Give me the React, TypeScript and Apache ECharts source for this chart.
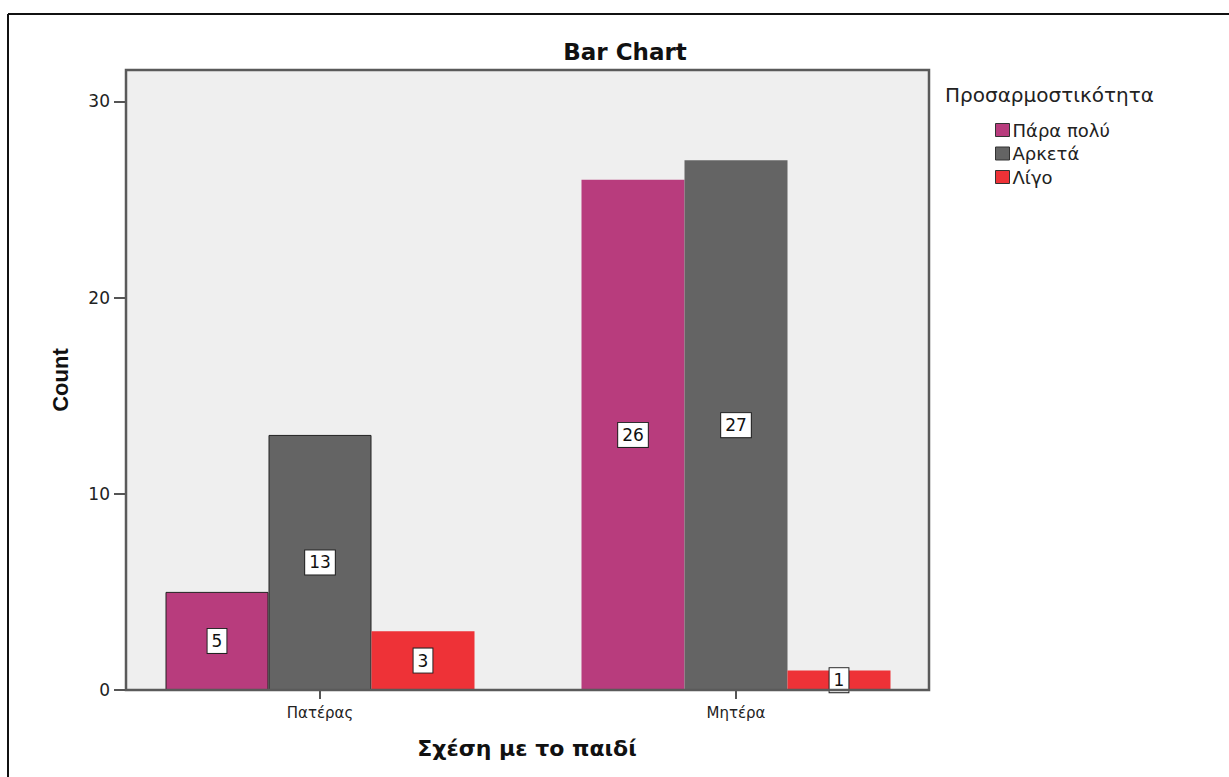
import React, { useEffect, useRef } from "react";
import * as echarts from "echarts";

const categories = ["Πατέρας", "Μητέρα"];
const seriesNames = ["Πάρα πολύ", "Αρκετά", "Λίγο"];
const paraPolu = [5, 26];
const arketa = [13, 27];
const ligo = [3, 1];
const seriesColors = ["#b83c7d", "#646464", "#ee3237"];
const yTicks = [0, 10, 20, 30];

export default function App() {
  const ref = useRef<HTMLDivElement>(null);
  useEffect(() => {
    document.body.style.margin = "0";
    const chart = echarts.init(ref.current!, null, { renderer: "svg" });
    const values = [paraPolu, arketa, ligo];
    const label = {
      show: true,
      position: "inside",
      color: "#111",
      fontFamily: "DejaVu Sans",
      fontSize: 17,
      backgroundColor: "#ffffff",
      borderColor: "#222",
      borderWidth: 1,
      padding: [4, 4, 3, 4],
    };
    chart.setOption({
      animation: false,
      backgroundColor: "#ffffff",
      grid: { left: 112, right: 285, top: 70, bottom: 87, show: false },
      legend: {
        orient: "vertical",
        left: 990,
        top: 116,
        itemWidth: 14,
        itemHeight: 13,
        itemGap: 5.5,
        icon: "rect",
        data: seriesNames,
        itemStyle: { borderColor: "#333", borderWidth: 1 },
        textStyle: {
          fontFamily: "DejaVu Sans",
          fontSize: 18,
          color: "#222",
          lineHeight: 13,
          padding: [0, 0, 0, -2],
        },
      },
      xAxis: {
        type: "category",
        data: categories,
        axisLine: { show: false },
        axisTick: {
          show: true,
          alignWithLabel: true,
          length: 9,
          lineStyle: { color: "#555", width: 2 },
        },
        axisLabel: {
          margin: 15,
          fontFamily: "DejaVu Sans",
          fontSize: 15,
          color: "#222",
        },
      },
      yAxis: {
        type: "value",
        min: 0,
        max: 31.6,
        interval: 10,
        offset: -14,
        axisLine: { show: false },
        axisTick: {
          show: true,
          length: 12,
          customValues: yTicks,
          lineStyle: { color: "#555", width: 2 },
        },
        splitLine: { show: false },
        axisLabel: {
          margin: 16,
          customValues: yTicks,
          fontFamily: "DejaVu Sans",
          fontSize: 17,
          color: "#222",
          formatter: (v: number) => (yTicks.includes(v) ? String(v) : ""),
        },
      },
      series: seriesNames.map((name, i) => ({
        name,
        type: "bar",
        barWidth: 103,
        barGap: "0%",
        data: values[i].map((v, j) => ({
          value: v,
          itemStyle:
            j === 0 && i < 2
              ? { borderColor: "#222", borderWidth: 1 }
              : { borderWidth: 0 },
        })),
        itemStyle: {
          color: seriesColors[i],
          borderColor: "#222",
        },
        label,
      })),
      graphic: [
        {
          type: "rect",
          z: -10,
          silent: true,
          shape: { x: 126, y: 70, width: 803, height: 620 },
          style: { fill: "#efefef" },
        },
        {
          type: "rect",
          z: 100,
          silent: true,
          shape: { x: 126, y: 70, width: 803, height: 620 },
          style: { fill: "none", stroke: "#5a5a5a", lineWidth: 2.5 },
        },
        {
          type: "line",
          z: 100,
          silent: true,
          shape: { x1: 8, y1: 14, x2: 1229, y2: 14 },
          style: { stroke: "#111", lineWidth: 2 },
        },
        {
          type: "line",
          z: 100,
          silent: true,
          shape: { x1: 8, y1: 14, x2: 8, y2: 777 },
          style: { stroke: "#111", lineWidth: 2 },
        },
        {
          type: "text",
          x: 625,
          y: 52,
          style: {
            text: "Bar Chart",
            fontFamily: "DejaVu Sans",
            fontWeight: "bold",
            fontSize: 23,
            fill: "#111",
            textAlign: "center",
            textVerticalAlign: "middle",
          },
        },
        {
          type: "text",
          x: 527,
          y: 748,
          style: {
            text: "Σχέση με το παιδί",
            fontFamily: "DejaVu Sans",
            fontWeight: "bold",
            fontSize: 22,
            fill: "#111",
            textAlign: "center",
            textVerticalAlign: "middle",
          },
        },
        {
          type: "text",
          x: 60,
          y: 380,
          rotation: Math.PI / 2,
          style: {
            text: "Count",
            fontFamily: "Liberation Sans",
            fontWeight: "bold",
            fontSize: 22,
            fill: "#111",
            textAlign: "center",
            textVerticalAlign: "middle",
          },
        },
        {
          type: "text",
          x: 945,
          y: 95,
          style: {
            text: "Προσαρμοστικότητα",
            fontFamily: "DejaVu Sans",
            fontSize: 20,
            fill: "#222",
            textAlign: "left",
            textVerticalAlign: "middle",
          },
        },
      ],
    });
    return () => chart.dispose();
  }, []);
  return (
    <div
      ref={ref}
      style={{ position: "fixed", left: 0, top: 0, width: 1229, height: 777 }}
    />
  );
}
